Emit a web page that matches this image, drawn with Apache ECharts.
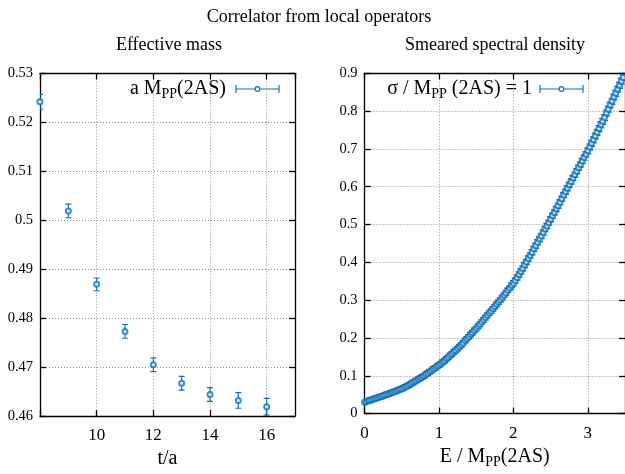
<!DOCTYPE html>
<html><head><meta charset="utf-8">
<script src="https://cdn.jsdelivr.net/npm/echarts@6/dist/echarts.min.js"></script>
<style>html,body{margin:0;padding:0;background:#fff}#c{width:625px;height:474px}</style>
</head><body><div id="c"></div>
<script>
// ---------- data ----------
const leftT   = [8, 9, 10, 11, 12, 13, 14, 15, 16];
const leftM   = [0.5242, 0.5019, 0.4869, 0.4773, 0.4705, 0.4667, 0.4644, 0.4632, 0.4619];
const leftErr = [0.0015, 0.0014, 0.0013, 0.0014, 0.0014, 0.0014, 0.0014, 0.0016, 0.0017];

const leftXTicks = [10, 12, 14, 16];
const rightXTicks = [0, 1, 2, 3];

const rightE = [
  0.000,0.025,0.050,0.075,0.100,0.125,0.150,0.175,0.200,0.225,
  0.250,0.275,0.300,0.325,0.350,0.375,0.400,0.425,0.450,0.475,
  0.500,0.525,0.550,0.575,0.600,0.625,0.650,0.675,0.700,0.725,
  0.750,0.775,0.800,0.825,0.850,0.875,0.900,0.925,0.950,0.975,
  1.000,1.025,1.050,1.075,1.100,1.125,1.150,1.175,1.200,1.225,
  1.250,1.275,1.300,1.325,1.350,1.375,1.400,1.425,1.450,1.475,
  1.500,1.525,1.550,1.575,1.600,1.625,1.650,1.675,1.700,1.725,
  1.750,1.775,1.800,1.825,1.850,1.875,1.900,1.925,1.950,1.975,
  2.000,2.025,2.050,2.075,2.100,2.125,2.150,2.175,2.200,2.225,
  2.250,2.275,2.300,2.325,2.350,2.375,2.400,2.425,2.450,2.475,
  2.500,2.525,2.550,2.575,2.600,2.625,2.650,2.675,2.700,2.725,
  2.750,2.775,2.800,2.825,2.850,2.875,2.900,2.925,2.950,2.975,
  3.000,3.025,3.050,3.075,3.100,3.125,3.150,3.175,3.200,3.225,
  3.250,3.275,3.300,3.325,3.350,3.375,3.400,3.425,3.450,3.475
];
const rightRho = [
  0.030,0.032,0.034,0.035,0.037,0.039,0.040,0.042,0.044,0.045,
  0.047,0.049,0.051,0.052,0.054,0.056,0.058,0.060,0.062,0.064,
  0.066,0.068,0.071,0.073,0.076,0.079,0.082,0.085,0.088,0.091,
  0.094,0.097,0.100,0.104,0.107,0.111,0.114,0.118,0.121,0.125,
  0.128,0.132,0.136,0.140,0.145,0.149,0.154,0.158,0.163,0.167,
  0.172,0.177,0.182,0.187,0.193,0.198,0.203,0.209,0.214,0.220,
  0.225,0.231,0.236,0.242,0.248,0.254,0.260,0.266,0.271,0.277,
  0.283,0.289,0.295,0.301,0.307,0.313,0.319,0.326,0.332,0.339,
  0.345,0.352,0.360,0.368,0.376,0.384,0.393,0.401,0.410,0.418,
  0.427,0.436,0.444,0.453,0.462,0.470,0.479,0.488,0.496,0.505,
  0.514,0.523,0.532,0.541,0.550,0.559,0.568,0.578,0.587,0.596,
  0.605,0.614,0.623,0.632,0.641,0.650,0.659,0.668,0.677,0.686,
  0.695,0.705,0.715,0.724,0.734,0.744,0.754,0.764,0.773,0.783,
  0.795,0.805,0.816,0.826,0.837,0.847,0.858,0.868,0.879,0.889
];
const rightErr = [
  0.006,0.006,0.006,0.006,0.006,0.006,0.006,0.006,0.006,0.006,
  0.006,0.006,0.006,0.006,0.006,0.006,0.006,0.006,0.006,0.006,
  0.006,0.006,0.006,0.006,0.006,0.006,0.006,0.006,0.006,0.006,
  0.006,0.006,0.006,0.006,0.006,0.006,0.006,0.006,0.006,0.006,
  0.006,0.006,0.006,0.006,0.006,0.006,0.006,0.006,0.006,0.006,
  0.006,0.006,0.006,0.006,0.006,0.006,0.006,0.006,0.006,0.006,
  0.006,0.006,0.006,0.006,0.006,0.006,0.006,0.006,0.006,0.006,
  0.006,0.006,0.006,0.006,0.006,0.006,0.006,0.006,0.006,0.006,
  0.007,0.007,0.007,0.007,0.007,0.007,0.007,0.007,0.007,0.007,
  0.007,0.007,0.007,0.007,0.007,0.007,0.007,0.007,0.007,0.007,
  0.007,0.007,0.007,0.007,0.007,0.007,0.007,0.007,0.007,0.007,
  0.007,0.007,0.007,0.007,0.007,0.007,0.007,0.007,0.007,0.007,
  0.008,0.008,0.008,0.008,0.008,0.008,0.008,0.008,0.008,0.008,
  0.008,0.008,0.008,0.008,0.008,0.008,0.008,0.008,0.008,0.008
];

// ---------- styling ----------
const FONT = 'Liberation Serif';
const BLUE = '#0f72b8';

const leftData  = leftT.map((t, i) => [t, leftM[i], leftErr[i]]);
const rightData = rightE.map((e, i) => [e, rightRho[i], rightErr[i]]);

const rich = {
  n: { fontFamily: FONT, fontSize: 20, color: '#000' },
  s: { fontFamily: FONT, fontSize: 14, color: '#000', padding: [11, 0, 0, 0] }
};

function errRender(capHalf) {
  return function (params, api) {
    const x = api.value(0), y = api.value(1), e = api.value(2);
    const p1 = api.coord([x, y + e]);
    const p2 = api.coord([x, y - e]);
    const st = { stroke: BLUE, lineWidth: 1.2 };
    return {
      type: 'group',
      children: [
        { type: 'line', shape: { x1: p1[0], y1: p1[1], x2: p2[0], y2: p2[1] }, style: st },
        { type: 'line', shape: { x1: p1[0] - capHalf, y1: p1[1], x2: p1[0] + capHalf, y2: p1[1] }, style: st },
        { type: 'line', shape: { x1: p2[0] - capHalf, y1: p2[1], x2: p2[0] + capHalf, y2: p2[1] }, style: st }
      ]
    };
  };
}

const lineSt = { show: true, onZero: false, lineStyle: { color: '#000', width: 1.3 } };
const tickSt = { show: true, inside: true, length: 6, lineStyle: { color: '#000', width: 1.3 } };
const gridSt = { show: true, lineStyle: { color: '#8f8f8f', type: [1, 2], width: 1 } };

function xMain(gi, min, max, interval, ticks, name, nameGap, nameRich) {
  return {
    type: 'value', gridIndex: gi, min, max, interval, position: 'bottom',
    axisLine: lineSt, axisTick: tickSt, splitLine: gridSt,
    axisLabel: {
      fontFamily: FONT, fontSize: 17, color: '#000', margin: 11,
      showMinLabel: true, showMaxLabel: false,
      formatter: v => (ticks.indexOf(Math.round(v * 1000) / 1000) >= 0 ? String(Math.round(v * 1000) / 1000) : '')
    },
    name, nameLocation: 'middle', nameGap,
    nameTextStyle: nameRich ? { rich } : { fontFamily: FONT, fontSize: 20, color: '#000' }
  };
}
function xMirror(gi, min, max, interval) {
  return {
    type: 'value', gridIndex: gi, min, max, interval, position: 'top',
    axisLine: lineSt, axisTick: tickSt, axisLabel: { show: false }, splitLine: { show: false }
  };
}
function yMain(gi, min, max, interval) {
  return {
    type: 'value', gridIndex: gi, min, max, interval, position: 'left',
    axisLine: lineSt, axisTick: tickSt, splitLine: gridSt,
    axisLabel: { fontFamily: FONT, fontSize: 14.5, color: '#000', margin: 7 }
  };
}
function yMirror(gi, min, max, interval) {
  return {
    type: 'value', gridIndex: gi, min, max, interval, position: 'right',
    axisLine: lineSt, axisTick: tickSt, axisLabel: { show: false }, splitLine: { show: false }
  };
}

const chart = echarts.init(document.getElementById('c'), null, { renderer: 'canvas' });

function legendIcon(x1, x2, y) {
  const st = { stroke: BLUE, lineWidth: 1.2 };
  const cx = (x1 + x2) / 2;
  return [
    { type: 'line', shape: { x1, y1: y, x2, y2: y }, style: st },
    { type: 'line', shape: { x1, y1: y - 4, x2: x1, y2: y + 4 }, style: st },
    { type: 'line', shape: { x1: x2, y1: y - 4, x2, y2: y + 4 }, style: st },
    { type: 'circle', shape: { cx, cy: y, r: 2.3 }, style: { stroke: BLUE, fill: '#fff', lineWidth: 1.2 } }
  ];
}

const option = {
  animation: false,
  backgroundColor: '#fff',
  grid: [
    { left: 40, top: 73.3, width: 255, height: 348.4 },
    { left: 364.5, top: 73.3, width: 263.6, height: 348.4 }
  ],
  xAxis: [
    xMain(0, 8, 17, 2, leftXTicks, 't/a', 28, false),
    xMirror(0, 8, 17, 2),
    xMain(1, 0, 3.5, 1, rightXTicks, '{n|E / M}{s|PP}{n|(2AS)}', 24, true),
    xMirror(1, 0, 3.5, 1)
  ],
  yAxis: [
    yMain(0, 0.46, 0.53, 0.01),
    yMirror(0, 0.46, 0.53, 0.01),
    yMain(1, 0, 0.9, 0.1),
    yMirror(1, 0, 0.9, 0.1)
  ],
  series: [
    { type: 'custom', xAxisIndex: 0, yAxisIndex: 0, data: leftData, renderItem: errRender(3), clip: true, silent: true },
    { type: 'scatter', xAxisIndex: 0, yAxisIndex: 0, data: leftData, symbol: 'emptyCircle', symbolSize: 5,
      itemStyle: { color: BLUE, borderWidth: 1.2 }, clip: true },
    { type: 'custom', xAxisIndex: 2, yAxisIndex: 2, data: rightData, renderItem: errRender(3.5), clip: true, silent: true },
    { type: 'scatter', xAxisIndex: 2, yAxisIndex: 2, data: rightData, symbol: 'emptyCircle', symbolSize: 5,
      itemStyle: { color: BLUE, borderWidth: 1.1 }, clip: true }
  ],
  graphic: [
    { type: 'text', style: { x: 319, y: 17, text: 'Correlator from local operators', fontFamily: FONT, fontSize: 18, fill: '#000', align: 'center', verticalAlign: 'middle' } },
    { type: 'text', style: { x: 169, y: 45, text: 'Effective mass', fontFamily: FONT, fontSize: 18, fill: '#000', align: 'center', verticalAlign: 'middle' } },
    { type: 'text', style: { x: 495, y: 45, text: 'Smeared spectral density', fontFamily: FONT, fontSize: 18, fill: '#000', align: 'center', verticalAlign: 'middle' } },
    { type: 'text', style: { x: 226, y: 89, text: '{n|a M}{s|PP}{n|(2AS)}', rich, align: 'right', verticalAlign: 'middle' } },
    { type: 'text', style: { x: 532, y: 89, text: '{n|σ / M}{s|PP}{n| (2AS) = 1}', rich, align: 'right', verticalAlign: 'middle' } },
    ...legendIcon(236, 279, 89),
    ...legendIcon(540, 583, 89)
  ]
};
chart.setOption(option);
</script>
</body></html>
